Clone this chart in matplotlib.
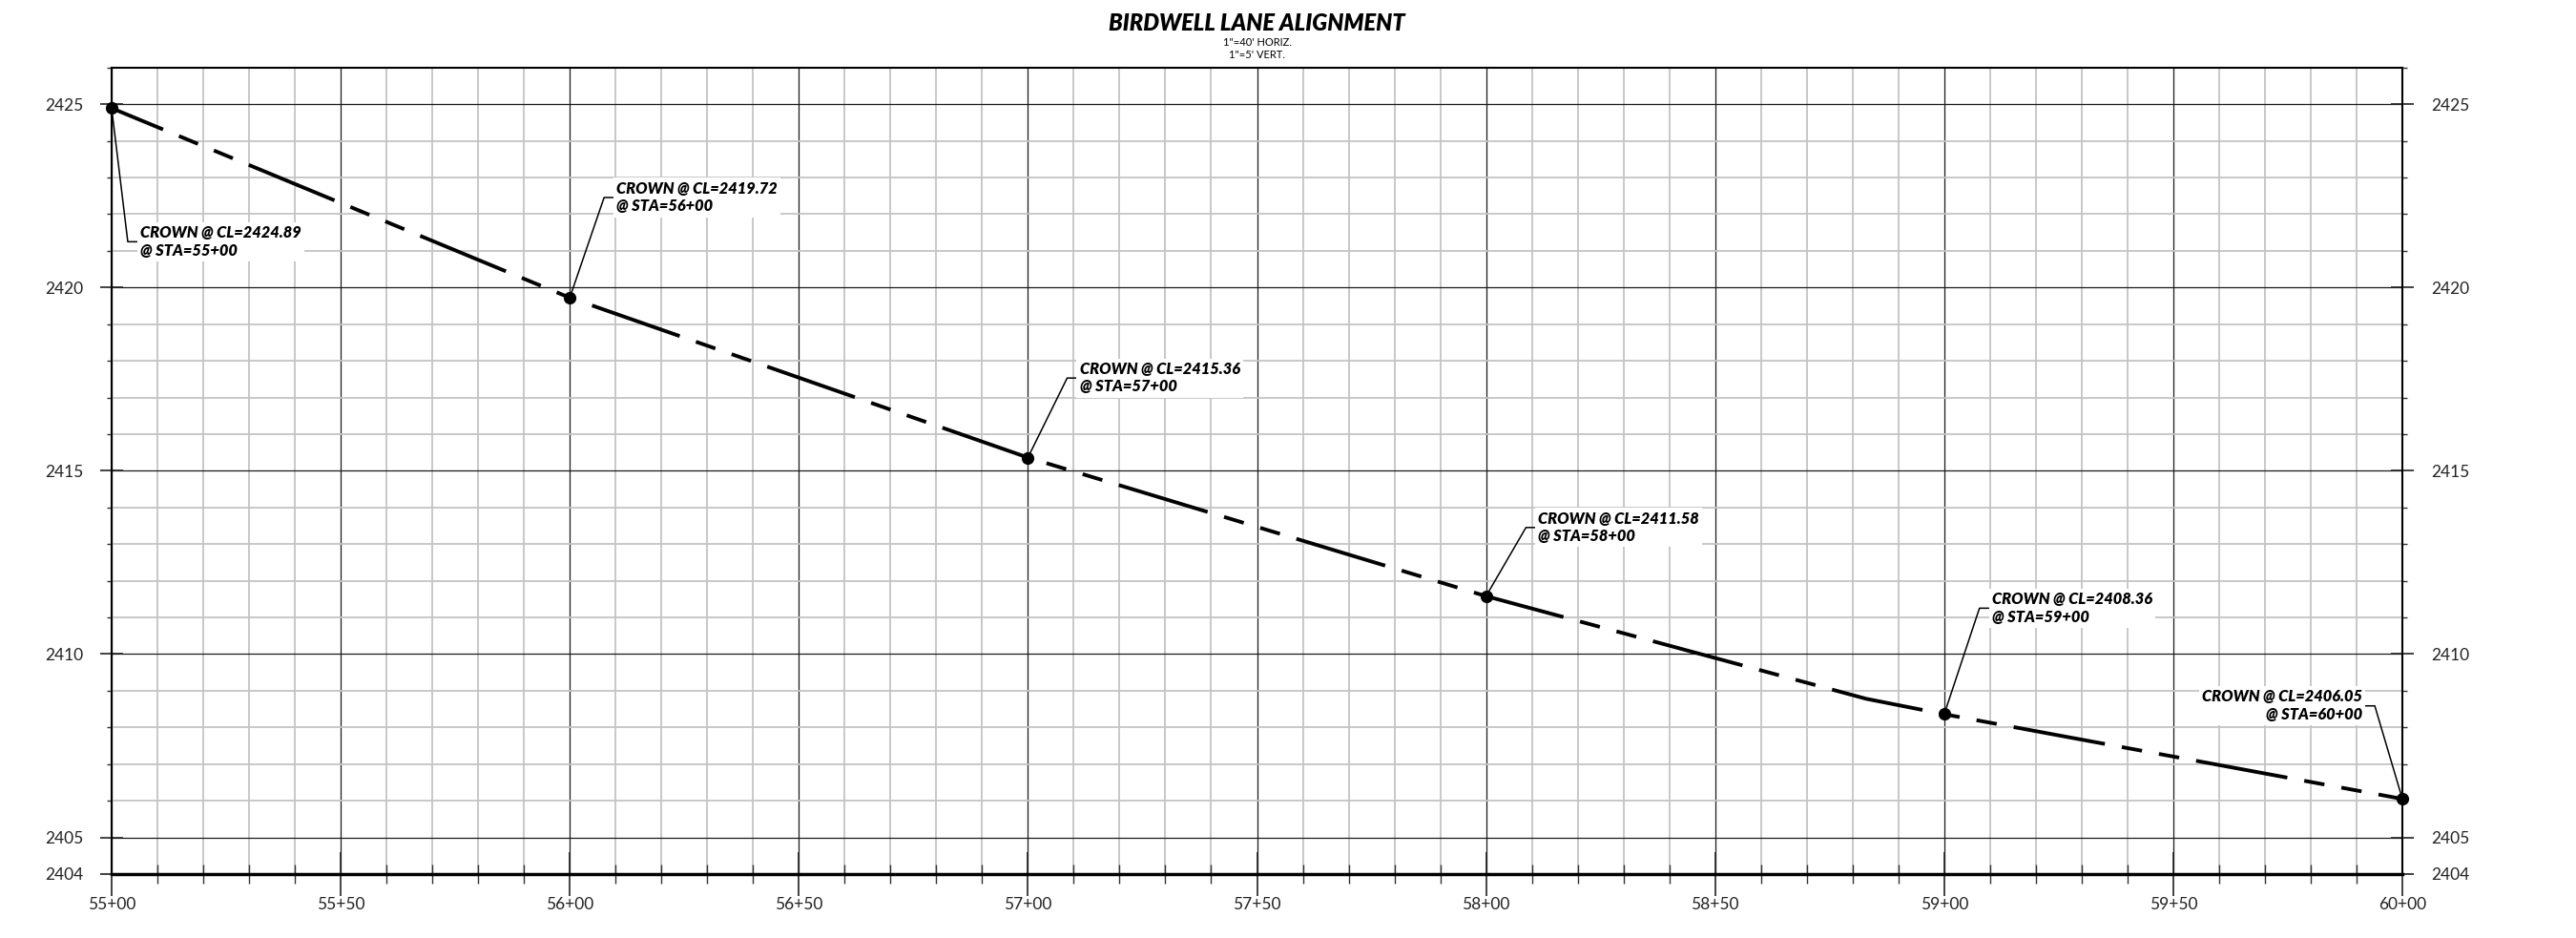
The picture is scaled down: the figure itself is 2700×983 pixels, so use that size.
import numpy as np
import matplotlib
matplotlib.use("Agg")
import matplotlib.pyplot as plt
from matplotlib.ticker import FixedLocator, MultipleLocator, FuncFormatter

plt.rcParams['font.family'] = ['Lato', 'DejaVu Sans']
plt.rcParams['lines.scale_dashes'] = False

# perfil del eje (estaciones en pies)
perfil_sta = [5500, 5600, 5700, 5800, 5883, 5900, 6000]
perfil_elev = [2424.89, 2419.72, 2415.36, 2411.58, 2408.78, 2408.36, 2406.05]

# puntos de corona rotulados
corona_sta = [5500, 5600, 5700, 5800, 5900, 6000]
corona_elev = [2424.89, 2419.72, 2415.36, 2411.58, 2408.36, 2406.05]

y_ticks = [2404, 2405, 2410, 2415, 2420, 2425]

titulo = "BIRDWELL LANE ALIGNMENT"
escalas = "1\"=40' HORIZ.\n1\"=5' VERT."

# desplazamiento de cada rotulo (puntos) y lado del texto
rot_dx = [21.6, 35.3, 39.0, 39.5, 36.0, -30.2]
rot_dy = [-100.8, 75.6, 60.0, 51.8, 80.0, 70.2]


def formato_estacion(v, pos):
    v = int(round(v))
    return f"{v // 100}+{v % 100:02d}"


fig = plt.figure(figsize=(27, 9.83), dpi=100)
ax = fig.add_axes([117 / 2700, 1 - 916 / 983, (2518 - 117) / 2700, (916 - 70.7) / 983])

ax.set_xlim(5500, 6000)
ax.set_ylim(2404, 2426)

ax.xaxis.set_major_locator(MultipleLocator(50))
ax.xaxis.set_minor_locator(MultipleLocator(10))
ax.xaxis.set_major_formatter(FuncFormatter(formato_estacion))
ax.yaxis.set_major_locator(FixedLocator(y_ticks))
ax.yaxis.set_minor_locator(MultipleLocator(1))

ax.grid(which='minor', color='#c4c4c4', lw=1.3)
ax.grid(which='major', color='#1a1a1a', lw=0.9)
ax.set_axisbelow(True)

ax.tick_params(axis='x', which='major', direction='inout', length=33, width=1.2,
               pad=1, labelsize=12.5, colors='#222222')
ax.tick_params(axis='x', which='minor', direction='inout', length=14, width=1.0,
               colors='#333333')
ax.tick_params(axis='y', which='major', direction='inout', length=17, width=1.2,
               pad=13, labelsize=12.5, left=True, right=True,
               labelleft=True, labelright=True, colors='#222222')
ax.tick_params(axis='y', which='minor', direction='out', length=3.6, width=1.0,
               left=True, right=True, colors='#333333')

for lado in ['left', 'right', 'top']:
    ax.spines[lado].set_linewidth(1.5)
ax.spines['bottom'].set_linewidth(2.5)

# linea de perfil discontinua
ax.plot(perfil_sta, perfil_elev, color='black', lw=2.8,
        linestyle=(28, (70, 13, 15.5, 13, 15.5, 13)), zorder=3, clip_on=False)
ax.plot(corona_sta, corona_elev, 'o', color='black', ms=8.5, zorder=4, clip_on=False)

gancho = 7.0
pad = 2.4
for sta, elev, dx, dy in zip(corona_sta, corona_elev, rot_dx, rot_dy):
    lado = 1 if dx > 0 else -1
    cx = dx - lado * (pad + gancho)
    angulo = np.degrees(np.arctan2(dy, cx))
    ax.annotate(f"CROWN @ CL={elev:.2f}\n@ STA={formato_estacion(sta, None)}",
                xy=(sta, elev), xytext=(dx, dy), textcoords='offset points',
                ha='left' if lado > 0 else 'right', va='center',
                multialignment='left' if lado > 0 else 'right',
                fontsize=11.8, fontweight='heavy', fontstyle='italic',
                linespacing=1.2,
                bbox=dict(boxstyle='square,pad=0.2', fc='white', ec='none'),
                arrowprops=dict(arrowstyle='-', color='black', lw=1.1,
                                shrinkA=0, shrinkB=0,
                                relpos=(0, 0.5) if lado > 0 else (1, 0.5),
                                connectionstyle=f"angle,angleA=0,angleB={angulo},rad=0"),
                zorder=5, annotation_clip=False)

cx_fig = (117 + 2518) / 2 / 2700
fig.text(cx_fig, 1 - 24 / 983, titulo, ha='center', va='center', fontsize=17,
         fontweight='heavy', fontstyle='italic')
fig.text(cx_fig, 1 - 51 / 983, escalas, ha='center', va='center', fontsize=8,
         linespacing=1.2)

fig.savefig("out.png", dpi=100)
